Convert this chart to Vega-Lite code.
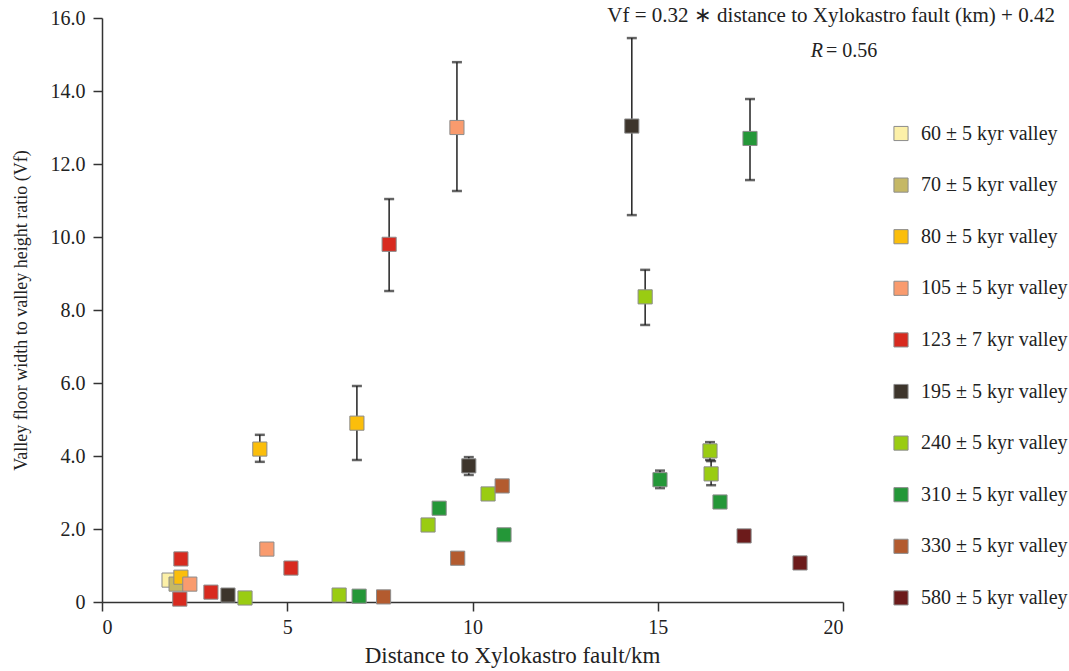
{
  "$schema": "https://vega.github.io/schema/vega-lite/v6.json",
  "width": 741,
  "height": 584,
  "autosize": "none",
  "padding": {"left": 102, "top": 18, "right": 226, "bottom": 69},
  "background": "white",
  "config": {
    "view": {"stroke": null},
    "font": "Liberation Serif",
    "axis": {
      "grid": false,
      "domainColor": "#333",
      "domainWidth": 1.5,
      "tickColor": "#333",
      "tickWidth": 1.5,
      "tickSize": 9,
      "labelFont": "Liberation Serif",
      "labelFontSize": 20,
      "labelColor": "#222",
      "titleFont": "Liberation Serif",
      "titleFontSize": 18,
      "titleFontWeight": "normal",
      "titleColor": "#222"
    },
    "legend": {
      "labelFont": "Liberation Serif",
      "labelFontSize": 20,
      "labelColor": "#222"
    }
  },
  "data": {
    "values": [
      {"group": "60 ± 5 kyr valley", "dist": 1.81, "vf": 0.60},
      {"group": "70 ± 5 kyr valley", "dist": 2.00, "vf": 0.49},
      {"group": "80 ± 5 kyr valley", "dist": 2.13, "vf": 0.68},
      {"group": "80 ± 5 kyr valley", "dist": 4.26, "vf": 4.19, "lo": 3.84, "hi": 4.58},
      {"group": "80 ± 5 kyr valley", "dist": 6.88, "vf": 4.90, "lo": 3.89, "hi": 5.92},
      {"group": "105 ± 5 kyr valley", "dist": 2.37, "vf": 0.49},
      {"group": "105 ± 5 kyr valley", "dist": 4.45, "vf": 1.45},
      {"group": "105 ± 5 kyr valley", "dist": 9.58, "vf": 13.00, "lo": 11.26, "hi": 14.79},
      {"group": "123 ± 7 kyr valley", "dist": 2.13, "vf": 1.18},
      {"group": "123 ± 7 kyr valley", "dist": 2.10, "vf": 0.08},
      {"group": "123 ± 7 kyr valley", "dist": 2.94, "vf": 0.27},
      {"group": "123 ± 7 kyr valley", "dist": 5.10, "vf": 0.93},
      {"group": "123 ± 7 kyr valley", "dist": 7.75, "vf": 9.80, "lo": 8.52, "hi": 11.04},
      {"group": "195 ± 5 kyr valley", "dist": 3.40, "vf": 0.19},
      {"group": "195 ± 5 kyr valley", "dist": 9.90, "vf": 3.73, "lo": 3.48, "hi": 3.97},
      {"group": "195 ± 5 kyr valley", "dist": 14.30, "vf": 13.04, "lo": 10.60, "hi": 15.45},
      {"group": "240 ± 5 kyr valley", "dist": 3.86, "vf": 0.11},
      {"group": "240 ± 5 kyr valley", "dist": 6.40, "vf": 0.19},
      {"group": "240 ± 5 kyr valley", "dist": 8.80, "vf": 2.11},
      {"group": "240 ± 5 kyr valley", "dist": 10.42, "vf": 2.96},
      {"group": "240 ± 5 kyr valley", "dist": 14.66, "vf": 8.36, "lo": 7.59, "hi": 9.10},
      {"group": "240 ± 5 kyr valley", "dist": 16.41, "vf": 4.14, "lo": 3.89, "hi": 4.38},
      {"group": "240 ± 5 kyr valley", "dist": 16.44, "vf": 3.51, "lo": 3.20, "hi": 3.86},
      {"group": "310 ± 5 kyr valley", "dist": 6.94, "vf": 0.16},
      {"group": "310 ± 5 kyr valley", "dist": 9.10, "vf": 2.57},
      {"group": "310 ± 5 kyr valley", "dist": 10.85, "vf": 1.84},
      {"group": "310 ± 5 kyr valley", "dist": 15.06, "vf": 3.35, "lo": 3.12, "hi": 3.60},
      {"group": "310 ± 5 kyr valley", "dist": 16.68, "vf": 2.74},
      {"group": "310 ± 5 kyr valley", "dist": 17.49, "vf": 12.70, "lo": 11.56, "hi": 13.78},
      {"group": "330 ± 5 kyr valley", "dist": 7.60, "vf": 0.14},
      {"group": "330 ± 5 kyr valley", "dist": 9.60, "vf": 1.20},
      {"group": "330 ± 5 kyr valley", "dist": 10.80, "vf": 3.18},
      {"group": "580 ± 5 kyr valley", "dist": 17.33, "vf": 1.81},
      {"group": "580 ± 5 kyr valley", "dist": 18.84, "vf": 1.07}
    ]
  },
  "layer": [
    {
      "transform": [{"filter": "isValid(datum.lo)"}],
      "mark": {"type": "rule", "color": "#222", "strokeWidth": 1.5},
      "encoding": {
        "x": {"field": "dist", "type": "quantitative", "scale": {"domain": [0, 20]}},
        "y": {"field": "lo", "type": "quantitative", "scale": {"domain": [0, 16]}},
        "y2": {"field": "hi"}
      }
    },
    {
      "transform": [{"filter": "isValid(datum.lo)"}],
      "mark": {"type": "tick", "orient": "horizontal", "color": "#222", "size": 10, "thickness": 2.5},
      "encoding": {
        "x": {"field": "dist", "type": "quantitative"},
        "y": {"field": "lo", "type": "quantitative"}
      }
    },
    {
      "transform": [{"filter": "isValid(datum.hi)"}],
      "mark": {"type": "tick", "orient": "horizontal", "color": "#222", "size": 10, "thickness": 2.5},
      "encoding": {
        "x": {"field": "dist", "type": "quantitative"},
        "y": {"field": "hi", "type": "quantitative"}
      }
    },
    {
      "mark": {"type": "point", "shape": "square", "filled": true, "size": 200, "opacity": 1, "stroke": "#8c8c8c", "strokeWidth": 1},
      "encoding": {
        "x": {
          "field": "dist", "type": "quantitative",
          "scale": {"domain": [0, 20], "nice": false},
          "axis": {"values": [0, 5, 10, 15, 20], "labelFont": "Liberation Serif", "labelFontSize": 20, "title": "Distance to Xylokastro fault/km", "titleFontSize": 23, "titlePadding": 7, "labelPadding": 6, "titleX": 410}
        },
        "y": {
          "field": "vf", "type": "quantitative",
          "scale": {"domain": [0, 16], "nice": false},
          "axis": {"values": [0, 2, 4, 6, 8, 10, 12, 14, 16], "labelFont": "Liberation Serif", "labelFontSize": 20, "labelExpr": "datum.value == 0 ? '0' : format(datum.value, '.1f')", "title": "Valley floor width to valley height ratio (Vf)", "titlePadding": 20, "labelPadding": 8}
        },
        "color": {
          "field": "group", "type": "nominal",
          "scale": {
            "domain": ["60 ± 5 kyr valley", "70 ± 5 kyr valley", "80 ± 5 kyr valley", "105 ± 5 kyr valley", "123 ± 7 kyr valley", "195 ± 5 kyr valley", "240 ± 5 kyr valley", "310 ± 5 kyr valley", "330 ± 5 kyr valley", "580 ± 5 kyr valley"],
            "range": ["#FCF0A8", "#C5B866", "#FBBE0B", "#F99B6E", "#D82A1F", "#3D352C", "#9ACC12", "#249738", "#B35B2F", "#6C1B1B"]
          },
          "legend": {
            "title": null,
            "orient": "none",
            "legendX": 789,
            "legendY": 105.5,
            "padding": 0,
            "symbolType": "square",
            "symbolSize": 200,
            "symbolStrokeColor": "#8c8c8c",
            "symbolStrokeWidth": 1,
            "symbolOpacity": 1,
            "labelOffset": 10,
            "rowPadding": 31.6
          }
        }
      }
    },
    {
      "data": {"values": [{}]},
      "mark": {"type": "text", "font": "Liberation Serif", "fontSize": 21, "fill": "#222", "align": "center", "baseline": "middle", "clip": false},
      "encoding": {
        "x": {"datum": 19.68},
        "y": {"datum": 16.05},
        "text": {"value": "Vf = 0.32 ∗ distance to Xylokastro fault (km) + 0.42"}
      }
    },
    {
      "data": {"values": [{}]},
      "mark": {"type": "text", "font": "Liberation Serif", "fontSize": 20, "fontStyle": "italic", "fill": "#222", "align": "right", "baseline": "middle"},
      "encoding": {
        "x": {"datum": 19.46},
        "y": {"datum": 15.1},
        "text": {"value": "R"}
      }
    },
    {
      "data": {"values": [{}]},
      "mark": {"type": "text", "font": "Liberation Serif", "fontSize": 20, "fill": "#222", "align": "left", "baseline": "middle"},
      "encoding": {
        "x": {"datum": 19.54},
        "y": {"datum": 15.1},
        "text": {"value": "= 0.56"}
      }
    }
  ]
}
